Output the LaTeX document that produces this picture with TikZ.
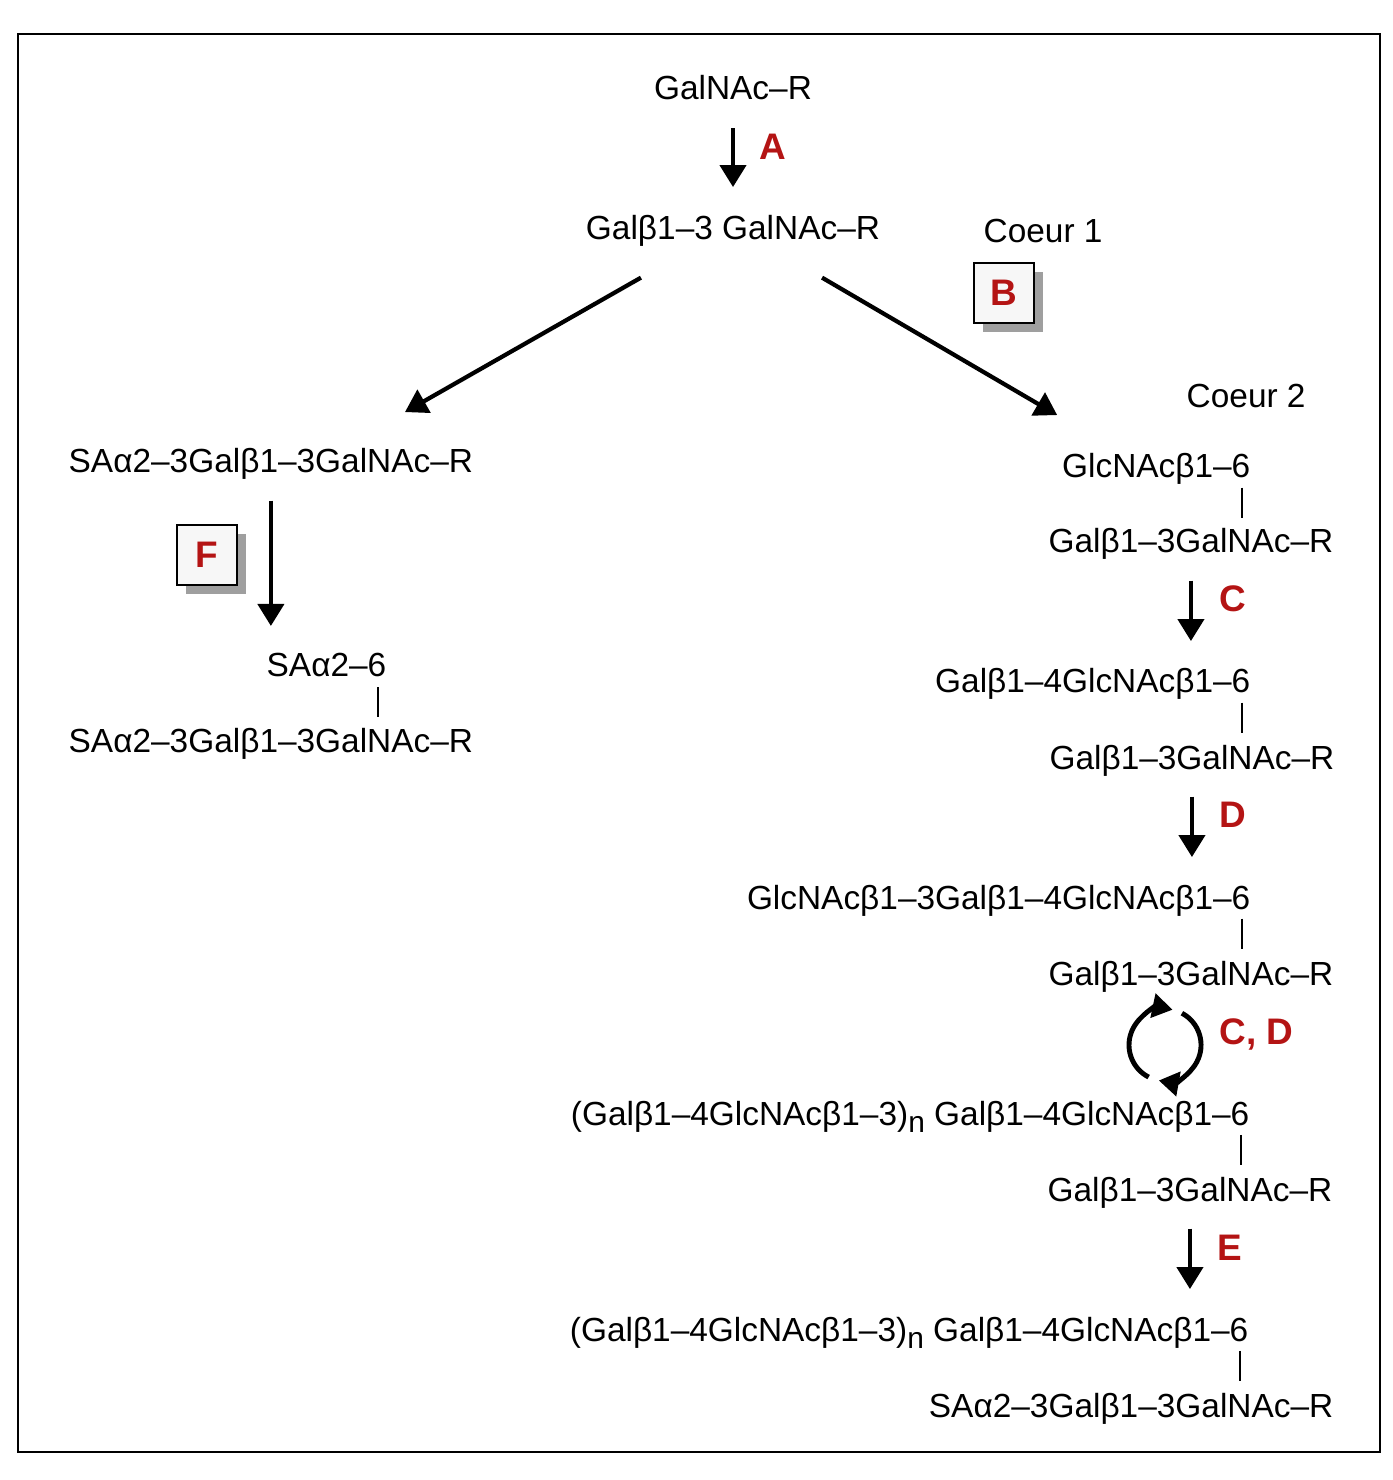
\documentclass[tikz,border=0pt]{standalone}
\usepackage{fontspec}
\setmainfont{Liberation Sans}
\usetikzlibrary{arrows.meta,shadows}
\definecolor{enzred}{RGB}{180,20,20}
\newcommand\nsub{\raisebox{-0.4ex}{\fontsize{8.5}{9}\selectfont n}}
\tikzset{
  sugar/.style={inner sep=0pt, font=\fontsize{9.5}{11}\selectfont},
  enz/.style={inner sep=0pt, text=enzred, font=\bfseries\fontsize{10.5}{12}\selectfont},
  enzbox/.style={draw, line width=0.8pt, fill=gray!6, minimum size=0.6cm, inner sep=0pt,
    text=enzred, font=\bfseries\fontsize{10.5}{12}\selectfont,
    drop shadow={shadow xshift=0.09cm, shadow yshift=-0.09cm, fill=gray!75, opacity=1}},
  rxn/.style={line width=1.2pt, -{Triangle[width=0.26cm,length=0.22cm]}},
  rxnv/.style={rxn, shorten <=0.2cm, shorten >=0.27cm},
  cyc/.style={line width=1.4pt, -{Triangle[width=0.24cm,length=0.2cm]}},
  bond/.style={line width=0.8pt}
}
\begin{document}
\begin{tikzpicture}[x=0.01cm, y=0.01cm]
  \useasboundingbox (0,0) rectangle (1392,-1480);
  \draw[line width=0.8pt] (18,-34) rectangle (1380,-1452);

  % top
  \node[sugar, anchor=base] (s0) at (733,-100) {GalNAc–R};
  \node[sugar, anchor=base] (s1) at (733,-240) {Galβ1–3 GalNAc–R};
  \node[enz, anchor=base] (eA) at (773,-160) {A};
  \node[sugar, anchor=base west] (c1) at (983,-243) {Coeur 1};
  \node[enzbox] (eB) at (1004,-293) {B};
  \node[sugar, anchor=base west] (c2) at (1186,-408) {Coeur 2};

  % left branch
  \node[sugar, anchor=base west] (l1) at (68,-473) {SAα2–3Galβ1–3GalNAc–R};
  \node[enzbox] (eF) at (207,-555) {F};
  \node[sugar, anchor=base east] (l2a) at (387,-677) {SAα2–6};
  \node[sugar, anchor=base west] (l2b) at (68,-752) {SAα2–3Galβ1–3GalNAc–R};

  % right branch
  \node[sugar, anchor=base east] (r1a) at (1251,-478) {GlcNAcβ1–6};
  \node[sugar, anchor=base east] (r1b) at (1334,-553) {Galβ1–3GalNAc–R};
  \node[sugar, anchor=base east] (r2a) at (1251,-693) {Galβ1–4GlcNAcβ1–6};
  \node[sugar, anchor=base east] (r2b) at (1335,-769) {Galβ1–3GalNAc–R};
  \node[sugar, anchor=base east] (r3a) at (1251,-909) {GlcNAcβ1–3Galβ1–4GlcNAcβ1–6};
  \node[sugar, anchor=base east] (r3b) at (1334,-985) {Galβ1–3GalNAc–R};
  \node[sugar, anchor=base east] (r4a) at (1250,-1125) {(Galβ1–4GlcNAcβ1–3)\nsub{} Galβ1–4GlcNAcβ1–6};
  \node[sugar, anchor=base east] (r4b) at (1333,-1201) {Galβ1–3GalNAc–R};
  \node[sugar, anchor=base east] (r5a) at (1249,-1341) {(Galβ1–4GlcNAcβ1–3)\nsub{} Galβ1–4GlcNAcβ1–6};
  \node[sugar, anchor=base east] (r5b) at (1334,-1417) {SAα2–3Galβ1–3GalNAc–R};

  \node[enz, anchor=base] (eC) at (1233,-612) {C};
  \node[enz, anchor=base] (eD) at (1233,-827) {D};
  \node[enz, anchor=base west] (eCD) at (1219,-1044) {C, D};
  \node[enz, anchor=base] (eE) at (1230,-1260) {E};
  \coordinate (loop) at (1165,-1045);

  % reactions
  \draw[rxn, shorten <=0.27cm, shorten >=0.28cm] (s0) -- (s1);
  \draw[rxn] ([xshift=-0.92cm, yshift=-0.3cm]s1.south) -- ([xshift=1.34cm, yshift=0.36cm]l1.north);
  \draw[rxn] ([xshift=0.89cm, yshift=-0.3cm]s1.south) -- ([xshift=-0.99cm, yshift=0.38cm]r1a.north);
  \draw[rxnv] (l1.south) -- (l1.south |- l2a.north);
  \draw[rxnv] (r1b.south) -- (r1b.south |- r2a.north);
  \draw[rxnv] (r2b.south) -- (r2b.south |- r3a.north);
  \draw[rxnv] (r4b.south) -- (r4b.south |- r5a.north);
  \draw[cyc] ([shift={(243:0.36cm)}]loop) arc[start angle=243, end angle=78, radius=0.36cm];
  \draw[cyc] ([shift={(62:0.36cm)}]loop) arc[start angle=62, end angle=-100, radius=0.36cm];

  % bonds
  \draw[bond] ([xshift=-0.09cm, yshift=-0.09cm]l2a.south east) -- ++(0,-30);
  \draw[bond] ([xshift=-0.09cm, yshift=-0.02cm]r1a.south east) -- ++(0,-30);
  \draw[bond] ([xshift=-0.09cm, yshift=-0.02cm]r2a.south east) -- ++(0,-30);
  \draw[bond] ([xshift=-0.09cm, yshift=-0.02cm]r3a.south east) -- ++(0,-30);
  \draw[bond] ([xshift=-0.09cm, yshift=-0.02cm]r4a.south east) -- ++(0,-30);
  \draw[bond] ([xshift=-0.09cm, yshift=-0.02cm]r5a.south east) -- ++(0,-30);
\end{tikzpicture}
\end{document}
